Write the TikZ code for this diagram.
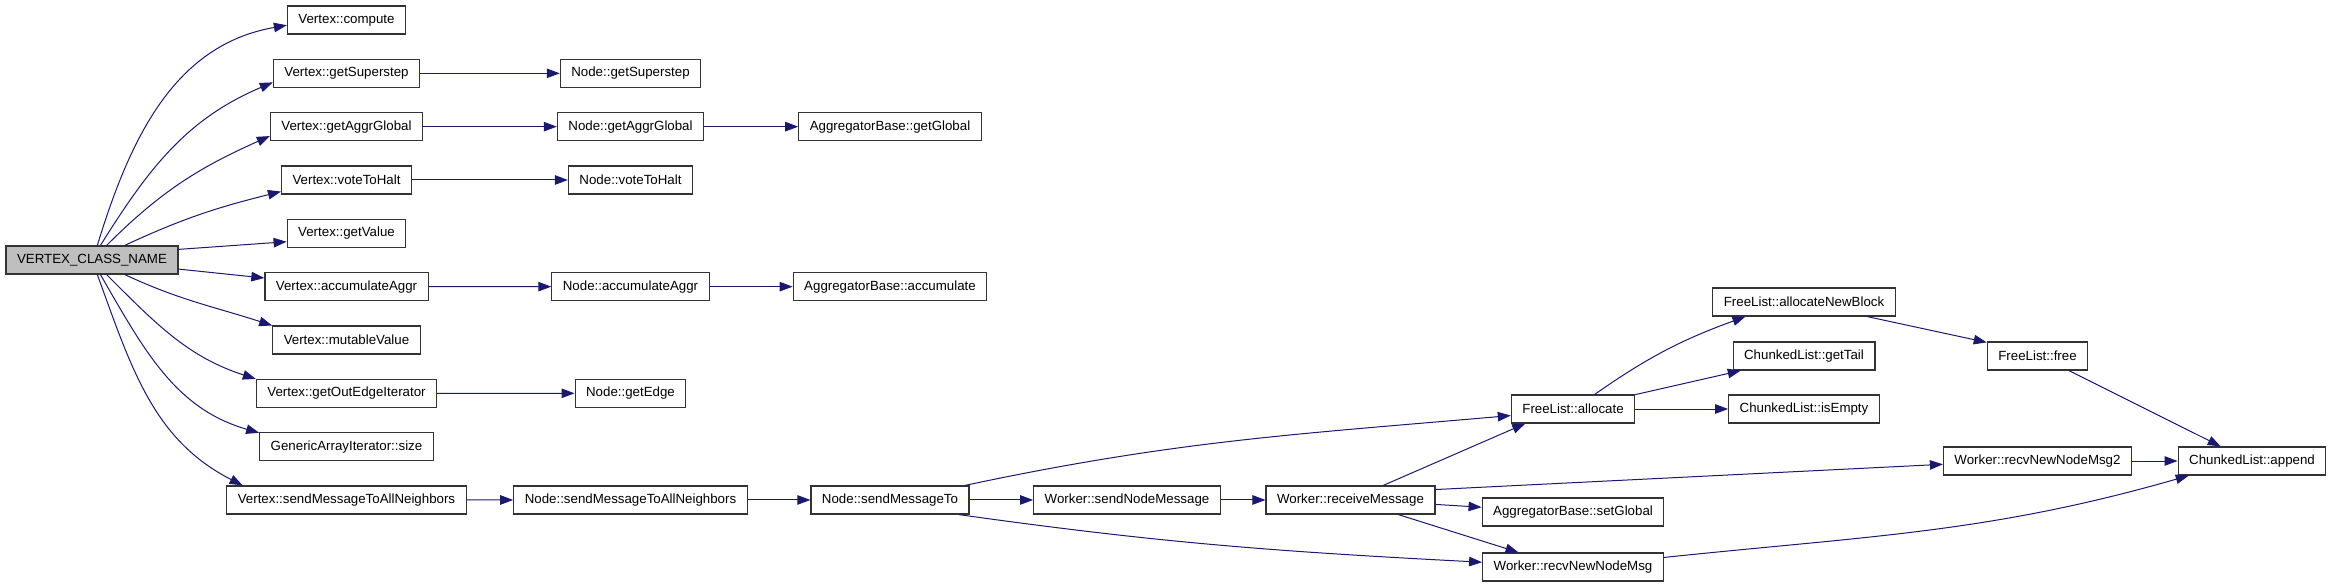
\documentclass[tikz,border=0pt]{standalone}
\usepackage{fontspec}
\setmainfont{Liberation Sans}
\usetikzlibrary{arrows.meta}
\definecolor{callblue}{RGB}{25,25,112}
\definecolor{rootfill}{RGB}{191,191,191}

\begin{document}
\begin{tikzpicture}[
  x=1pt, y=1pt,
  every node/.style={font=\fontsize{13.3}{16}\selectfont},
  fn/.style={draw=black!80, line width=1.2pt, fill=white,
             minimum height=28pt, inner xsep=11pt, inner ysep=0pt},
  root/.style={fn, fill=rootfill},
  call/.style={->, draw=callblue, line width=1pt},
  >={Triangle[length=13pt, width=9.5pt]}
]
\useasboundingbox (0,0) rectangle (2331,587);

\node[root] (vcn) at (92,327) {VERTEX\_CLASS\_NAME};

% Vertex methods, one per row
\foreach \n/\t [count=\k from 0] in {vcomp/Vertex::compute, vss/Vertex::getSuperstep,
    vag/Vertex::getAggrGlobal, vvh/Vertex::voteToHalt, vgv/Vertex::getValue,
    vacc/Vertex::accumulateAggr, vmv/Vertex::mutableValue,
    voe/Vertex::getOutEdgeIterator, gsize/GenericArrayIterator::size,
    vsmall/Vertex::sendMessageToAllNeighbors} {
  \node[fn] (\n) at (346.5, 567-53.33*\k) {\t};
}

% Node and aggregator calls
\node[fn] (nss) at (630.5,513.67) {Node::getSuperstep};
\node[fn] (nag) at (630.5,460.34) {Node::getAggrGlobal};
\node[fn] (nvh) at (630.5,407.01) {Node::voteToHalt};
\node[fn] (nacc) at (630.5,300.35) {Node::accumulateAggr};
\node[fn] (nedge) at (630.5,193.69) {Node::getEdge};
\node[fn] (nsmall) at (630.5,87.03) {Node::sendMessageToAllNeighbors};
\node[fn] (agg) at (890,460.34) {AggregatorBase::getGlobal};
\node[fn] (aacc) at (890,300.35) {AggregatorBase::accumulate};
\node[fn] (nsmt) at (890,87.03) {Node::sendMessageTo};

% Worker and list calls
\node[fn] (wsnm) at (1127,87.03) {Worker::sendNodeMessage};
\node[fn] (wrm) at (1350.5,87.03) {Worker::receiveMessage};
\node[fn] (fla) at (1573,178) {FreeList::allocate};
\node[fn] (asg) at (1573,75) {AggregatorBase::setGlobal};
\node[fn] (wrn) at (1573,20) {Worker::recvNewNodeMsg};
\node[fn] (flb) at (1804,285) {FreeList::allocateNewBlock};
\node[fn] (clt) at (1804,231) {ChunkedList::getTail};
\node[fn] (cle) at (1804,178) {ChunkedList::isEmpty};
\node[fn] (flf) at (2037.5,231) {FreeList::free};
\node[fn] (wrn2) at (2037.5,126) {Worker::recvNewNodeMsg2};
\node[fn] (cla) at (2252,126) {ChunkedList::append};

% Fan out of the root
\draw[call] (vcn.70) to[out=73, in=190] (vcomp.185);
\draw[call] (vcn.60) to[out=58, in=203] (vss.187);
\draw[call] (vcn.45) to[out=45, in=204] (vag.187);
\draw[call] (vcn.24) to[out=25, in=194] (vvh.190);
\draw[call] (vcn.7) -- (vgv.188);
\draw[call] (vcn.-6) -- (vacc.174);
\draw[call] (vcn.-24) to[out=-25, in=162] (vmv.169);
\draw[call] (vcn.-45) to[out=-45, in=162] (voe.171);
\draw[call] (vcn.-60) to[out=-60, in=164] (gsize.171);
\draw[call] (vcn.-70) to[out=-70, in=153] (vsmall.172);

% Straight calls along the rows
\draw[call] (vss) -- (nss);
\draw[call] (vag) -- (nag);
\draw[call] (nag) -- (agg);
\draw[call] (vvh) -- (nvh);
\draw[call] (vacc) -- (nacc);
\draw[call] (nacc) -- (aacc);
\draw[call] (voe) -- (nedge);
\draw[call] (vsmall) -- (nsmall);
\draw[call] (nsmall) -- (nsmt);
\draw[call] (nsmt) -- (wsnm);
\draw[call] (wsnm) -- (wrm);
\draw[call] (fla) -- (cle);
\draw[call] (wrn2) -- (cla);

% Message handling
\draw[call] (nsmt.11) to[out=12, in=185] (fla.186);
\draw[call] (nsmt.-12) to[out=-8, in=177] (wrn.177);
\draw[call] (wrm.24) -- (fla.197);
\draw[call] (wrm.7) -- (wrn2.182);
\draw[call] (wrm.-3) -- (asg.177);
\draw[call] (wrm.-17) -- (wrn.165);
\draw[call] (fla.34) to[out=35, in=200] (flb.194);
\draw[call] (fla.13) -- (clt.193);
\draw[call] (flb.-13) -- (flf.165);
\draw[call] (flf.-25) -- (cla.155);
\draw[call] (wrn.6) to[out=6, in=196] (cla.193);

\end{tikzpicture}
\end{document}
